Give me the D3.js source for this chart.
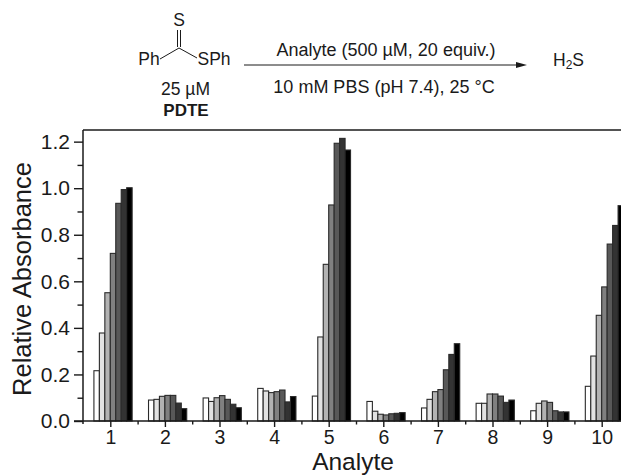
<!DOCTYPE html>
<html><head><meta charset="utf-8">
<script src="https://cdn.jsdelivr.net/npm/d3@7"></script>
<style>
html,body{margin:0;padding:0;background:#fff;overflow:hidden}
svg{display:block}
text{font-family:"Liberation Sans",Arial,sans-serif;fill:#1a1a1a}
</style></head><body>
<script>
const categories=[1,2,3,4,5,6,7,8,9,10];
const yTicks=[0,0.2,0.4,0.6,0.8,1.0,1.2];
const yMinor=[0.1,0.3,0.5,0.7,0.9,1.1];
const xMinor=[1.5,2.5,3.5,4.5,5.5,6.5,7.5,8.5,9.5];
const fills=["#ffffff","#e2e2e2","#b2b2b2","#808080","#585858","#333333","#000000"];
const s1=[.216,.09,.099,.14,.107,.084,.056,.076,.044,.149];
const s2=[.378,.093,.084,.129,.361,.042,.093,.076,.076,.279];
const s3=[.551,.106,.10,.122,.673,.029,.126,.116,.086,.454];
const s4=[.72,.11,.109,.126,.928,.026,.135,.116,.08,.576];
const s5=[.935,.11,.093,.133,1.193,.031,.22,.107,.044,.76];
const s6=[.994,.077,.072,.082,1.214,.033,.286,.08,.039,.84];
const s7=[1.002,.053,.057,.105,1.164,.036,.332,.09,.039,.925];
const series=[s1,s2,s3,s4,s5,s6,s7];

const W=621,H=475;
const svg=d3.select("body").append("svg").attr("width",W).attr("height",H);
const x=d3.scaleLinear().domain([0.5,10.5]).range([83,629]);
const y=d3.scaleLinear().domain([0,1.25]).range([421,130]);
const unit=x(2)-x(1);
const bw=unit*0.1;

const bars=svg.append("g");
series.forEach((s,i)=>{
  bars.selectAll(null).data(s).join("rect")
    .attr("x",(d,j)=>x(categories[j])+(i-3)*bw)
    .attr("y",d=>y(d))
    .attr("width",bw)
    .attr("height",d=>y(0)-y(d))
    .attr("fill",fills[i])
    .attr("stroke","#2a2a2a")
    .attr("stroke-width",1.1);
});

function style(g){g.selectAll("path,line").attr("stroke","#1a1a1a").attr("stroke-width",1.4);g.select(".domain").remove();}
svg.append("line").attr("x1",x(0.5)).attr("x2",W).attr("y1",y(1.25)).attr("y2",y(1.25)).attr("stroke","#1a1a1a").attr("stroke-width",1.5);
svg.append("line").attr("x1",x(0.5)).attr("x2",x(0.5)).attr("y1",y(1.25)).attr("y2",y(0)+3).attr("stroke","#1a1a1a").attr("stroke-width",1.5);
svg.append("line").attr("x1",x(0.5)-9).attr("x2",W).attr("y1",y(0)).attr("y2",y(0)).attr("stroke","#1a1a1a").attr("stroke-width",1.5);

const gy=svg.append("g").attr("transform",`translate(${x(0.5)},0)`)
  .call(d3.axisLeft(y).tickValues(yTicks).tickSize(9).tickPadding(4).tickFormat(d3.format(".1f")));
style(gy);
gy.selectAll("text").attr("font-size",21).attr("font-family","Liberation Sans").attr("fill","#1a1a1a");
const gym=svg.append("g").attr("transform",`translate(${x(0.5)},0)`)
  .call(d3.axisLeft(y).tickValues(yMinor).tickSize(5.5).tickFormat(""));
style(gym);

const gx=svg.append("g").attr("transform",`translate(0,${y(0)})`)
  .call(d3.axisBottom(x).tickValues(categories).tickSize(6).tickPadding(3.5).tickFormat(d3.format("d")));
style(gx);
gx.selectAll("text").attr("font-size",19.5).attr("font-family","Liberation Sans").attr("fill","#1a1a1a");
const gxm=svg.append("g").attr("transform",`translate(0,${y(0)})`)
  .call(d3.axisBottom(x).tickValues(xMinor).tickSize(3.5).tickFormat(""));
style(gxm);

svg.append("text").attr("transform","translate(31,279) rotate(-90)").attr("text-anchor","middle").attr("font-size",25.5).text("Relative Absorbance");
svg.append("text").attr("x",353).attr("y",470).attr("text-anchor","middle").attr("font-size",24.5).text("Analyte");

function t(txt,xp,yp,size,anchor,weight){
  const e=svg.append("text").attr("x",xp).attr("y",yp).attr("font-size",size||18).attr("text-anchor",anchor||"middle");
  if(weight)e.attr("font-weight",weight);
  if(txt)e.text(txt);
  return e;
}
const fs=17.5;
t("S",179,26,fs);
t("Ph",149,65,fs);
t("SPh",214,65,fs);
t("25 µM",185.5,95,fs);
t("PDTE",186,116,17,"middle","bold");
t("Analyte (500 µM, 20 equiv.)",386,56,18);
t("10 mM PBS (pH 7.4), 25 °C",384,93,18);
const h=t("",553,66,fs,"start");
h.append("tspan").text("H");
h.append("tspan").attr("font-size",12).attr("dy",3).text("2");
h.append("tspan").attr("dy",-3).text("S");
const ln=(a,b,c,d)=>svg.append("line").attr("x1",a).attr("y1",b).attr("x2",c).attr("y2",d).attr("stroke","#1a1a1a").attr("stroke-width",1);
ln(177.5,30,177.5,47);ln(180.5,30,180.5,47);
ln(160,59,179,48);ln(179,48,197,58);
ln(244,65,520,65);
svg.append("path").attr("d","M516,62 L527,65 L516,68 Z").attr("fill","#1a1a1a");
</script>
</body></html>
